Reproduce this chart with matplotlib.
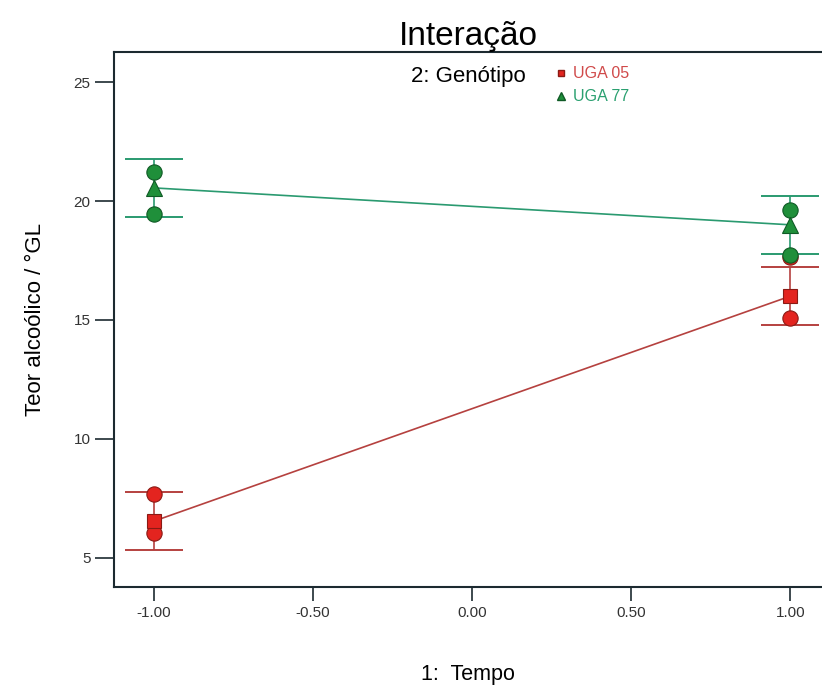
import matplotlib.pyplot as plt
import numpy as np

# ---- Data ----
tempo = [-1.0, 1.0]

# predicted means per genotype
uga05_mean = [6.55, 16.0]
uga77_mean = [20.55, 19.0]
lsd_half = 1.22

# observed design points
uga05_pts_x = [-1.0, -1.0, 1.0, 1.0]
uga05_pts_y = [7.7, 6.05, 15.08, 17.65]
uga77_pts_x = [-1.0, -1.0, 1.0, 1.0]
uga77_pts_y = [21.22, 19.45, 19.62, 17.73]

x_ticks = [-1.0, -0.5, 0.0, 0.5, 1.0]
x_labels = ["-1.00", "-0.50", "0.00", "0.50", "1.00"]
y_ticks = [5, 10, 15, 20, 25]

red_line = '#b5413f'
red_fill = '#e3241f'
red_edge = '#8a1a14'
green_line = '#2a9a70'
green_fill = '#1f8f3a'
green_edge = '#0f5a25'

plt.rcParams['font.family'] = ['Liberation Sans', 'DejaVu Sans']

fig = plt.figure(figsize=(8.22, 6.91), dpi=100)
ax = fig.add_axes([0.1387, 0.1505, 0.8613, 0.7742])

# ---- Error bars (LSD) ----
ax.errorbar(tempo, uga77_mean, yerr=lsd_half, fmt='none', ecolor=green_line,
            elinewidth=1.2, capsize=21, capthick=1.4, zorder=2)
ax.errorbar(tempo, uga05_mean, yerr=lsd_half, fmt='none', ecolor=red_line,
            elinewidth=1.2, capsize=21, capthick=1.4, zorder=2)

# ---- Design points ----
ax.plot(uga05_pts_x, uga05_pts_y, 'o', ms=11, mfc=red_fill, mec=red_edge,
        mew=0.8, zorder=3)
ax.plot(uga77_pts_x, uga77_pts_y, 'o', ms=11, mfc=green_fill, mec=green_edge,
        mew=0.8, zorder=4)

# ---- Mean lines ----
ax.plot(tempo, uga05_mean, '-', color=red_line, lw=1.2, zorder=3)
ax.plot(tempo, uga77_mean, '-', color=green_line, lw=1.2, zorder=3)
ax.plot(tempo, uga05_mean, 's', ms=10, mfc=red_fill, mec=red_edge, mew=0.8,
        zorder=5)
ax.plot(tempo, uga77_mean, '^', ms=11, mfc=green_fill, mec=green_edge,
        mew=0.8, zorder=5)

# ---- Axes ----
ax.set_xlim(-1.126, 1.10)
ax.set_ylim(3.78, 26.26)
ax.set_xticks(x_ticks)
ax.set_xticklabels(x_labels)
ax.set_yticks(y_ticks)

for side in ['left', 'top', 'bottom']:
    ax.spines[side].set_linewidth(1.5)
    ax.spines[side].set_color('#1c2a30')
ax.spines['right'].set_visible(False)

ax.tick_params(axis='y', length=14, width=1.2, color='#1c2a30', labelsize=11,
               labelcolor='#333333', pad=3)
ax.tick_params(axis='x', length=10, width=1.2, color='#1c2a30', labelsize=11,
               labelcolor='#333333', pad=4)

# ---- Labels ----
ax.set_title("Interação", fontsize=24, pad=1)
ax.set_xlabel("1:  Tempo", fontsize=15.5, labelpad=31)
ax.set_ylabel("Teor alcoólico / °GL", fontsize=16, labelpad=20)

# ---- Legend ----
fig.text(0.500, 0.890, "2: Genótipo", fontsize=16, ha='left', va='center')
fig.lines.append(plt.Line2D([0.6825], [0.894], marker='s', ms=5,
                            color=red_fill, mec=red_edge,
                            transform=fig.transFigure))
fig.lines.append(plt.Line2D([0.6825], [0.861], marker='^', ms=6,
                            color=green_fill, mec=green_edge,
                            transform=fig.transFigure))
fig.text(0.697, 0.894, "UGA 05", fontsize=11.5, color='#d04a4a', va='center')
fig.text(0.697, 0.861, "UGA 77", fontsize=11.5, color='#2aa070', va='center')

plt.savefig("out.png", dpi=100)
